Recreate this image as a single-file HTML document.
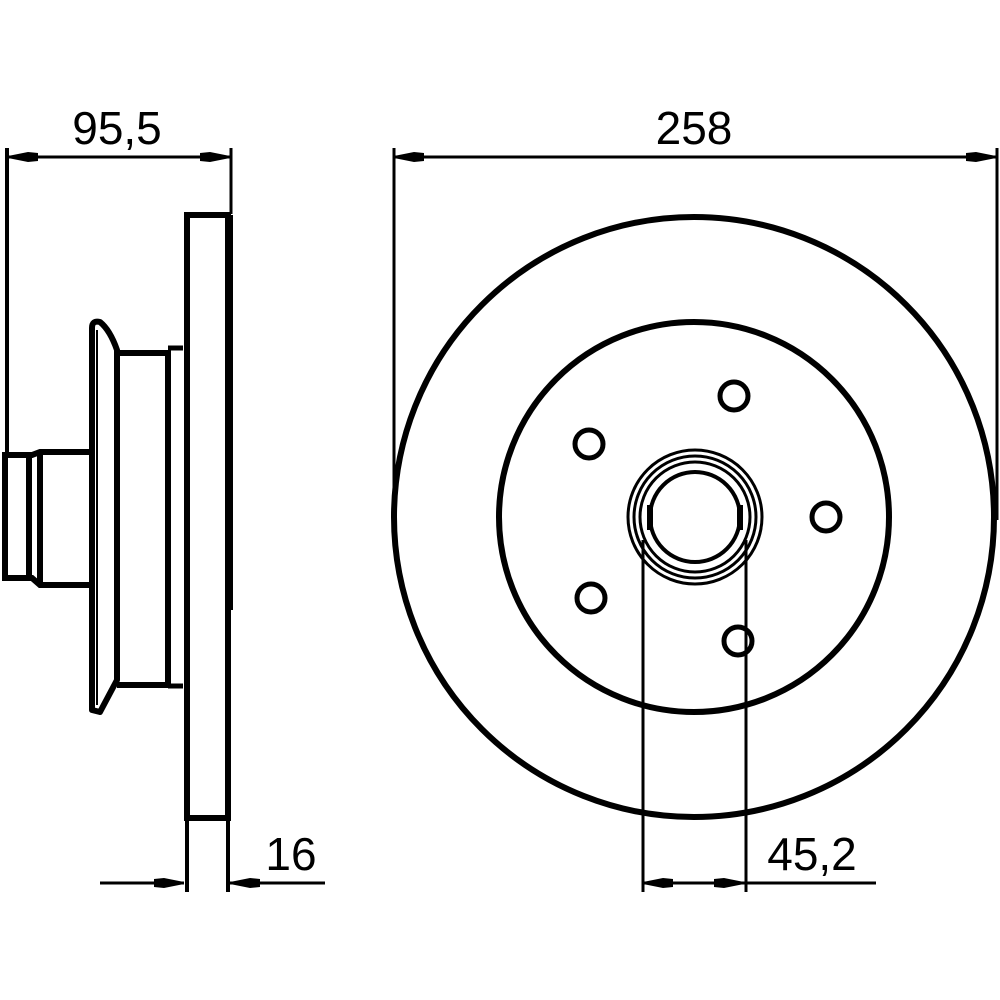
<!DOCTYPE html>
<html><head><meta charset="utf-8"><style>html,body{margin:0;padding:0;background:#fff}svg{display:block}</style></head>
<body>
<svg width="1000" height="1000" viewBox="0 0 1000 1000" xmlns="http://www.w3.org/2000/svg">
<defs>
<marker id="a" viewBox="0 0 30 12" refX="30" refY="6" markerWidth="30" markerHeight="12" markerUnits="userSpaceOnUse" orient="auto">
<path d="M0,2 L10,1 L30,5 L30,7 L10,11 L0,10 Z" fill="#000"/>
</marker>
</defs>
<g font-family="Liberation Sans, Arial, sans-serif" font-size="46" fill="#000">
<text x="117" y="144" text-anchor="middle">95,5</text>
<text x="694" y="144" text-anchor="middle">258</text>
<text x="291" y="870" text-anchor="middle">16</text>
<text x="812" y="870" text-anchor="middle">45,2</text>
</g>
<g stroke="#000" fill="none">
<!-- dimension lines -->
<line x1="8" y1="157" x2="230" y2="157" stroke-width="3" marker-end="url(#a)"/>
<line x1="230" y1="157" x2="8" y2="157" stroke-width="3" marker-end="url(#a)"/>
<line x1="394" y1="157" x2="996" y2="157" stroke-width="3" marker-end="url(#a)"/>
<line x1="996" y1="157" x2="394" y2="157" stroke-width="3" marker-end="url(#a)"/>
<line x1="100" y1="883" x2="184" y2="883" stroke-width="3" marker-end="url(#a)"/>
<line x1="325" y1="883" x2="230" y2="883" stroke-width="3" marker-end="url(#a)"/>
<line x1="643" y1="883" x2="744" y2="883" stroke-width="3" marker-end="url(#a)"/>
<line x1="744" y1="883" x2="643" y2="883" stroke-width="3" marker-end="url(#a)"/>
<line x1="744" y1="883" x2="876" y2="883" stroke-width="3"/>
<!-- extension lines -->
<line x1="7" y1="148" x2="7" y2="452" stroke-width="4"/>
<line x1="231" y1="148" x2="231" y2="214" stroke-width="3"/>
<line x1="394" y1="148" x2="394" y2="520" stroke-width="3"/>
<line x1="997" y1="148" x2="997" y2="520" stroke-width="3"/>
<line x1="187" y1="820" x2="187" y2="892" stroke-width="4"/>
<line x1="228" y1="820" x2="228" y2="892" stroke-width="4"/>
<line x1="643" y1="540" x2="643" y2="892" stroke-width="3"/>
<line x1="746" y1="540" x2="746" y2="892" stroke-width="3"/>
<!-- disc side view -->
<rect x="187" y="215" width="41" height="603" stroke-width="6"/>
<line x1="229" y1="215" x2="229" y2="610" stroke-width="8"/>
<!-- hub flange -->
<path d="M92,710 L92,328 Q92,320 100,322 Q110,330 117,350 L117,680 L100,712 Z" stroke-width="6" stroke-linejoin="round"/>
<line x1="97" y1="330" x2="97" y2="705" stroke-width="2"/>
<path d="M117,353 L168,353 L168,685 L117,685" stroke-width="6"/>
<path d="M168,348 L183,348 M168,686 L183,686" stroke-width="5"/>
<!-- stub -->
<path d="M92,452 L40,452 L32,455 L5,455 L5,578 L32,578 L40,585 L92,585" stroke-width="6"/>
<line x1="29" y1="455" x2="29" y2="580" stroke-width="6"/>
<line x1="40" y1="452" x2="40" y2="585" stroke-width="6"/>
<!-- front view -->
<circle cx="694" cy="517" r="300" stroke-width="6"/>
<circle cx="694" cy="517" r="195" stroke-width="6"/>
<circle cx="734" cy="396" r="14" stroke-width="5"/>
<circle cx="589" cy="444" r="14" stroke-width="5"/>
<circle cx="826" cy="517" r="14" stroke-width="5"/>
<circle cx="591" cy="598" r="14" stroke-width="5"/>
<circle cx="738" cy="641" r="14" stroke-width="5"/>
<circle cx="695" cy="517" r="67" stroke-width="3"/>
<circle cx="695" cy="517" r="61" stroke-width="3"/>
<circle cx="695" cy="517" r="55" stroke-width="3"/>
<circle cx="695" cy="517" r="45" stroke-width="4"/>
<line x1="650" y1="505" x2="650" y2="530" stroke-width="6"/>
<line x1="740" y1="505" x2="740" y2="530" stroke-width="6"/>
</g>
</svg>
</body></html>
